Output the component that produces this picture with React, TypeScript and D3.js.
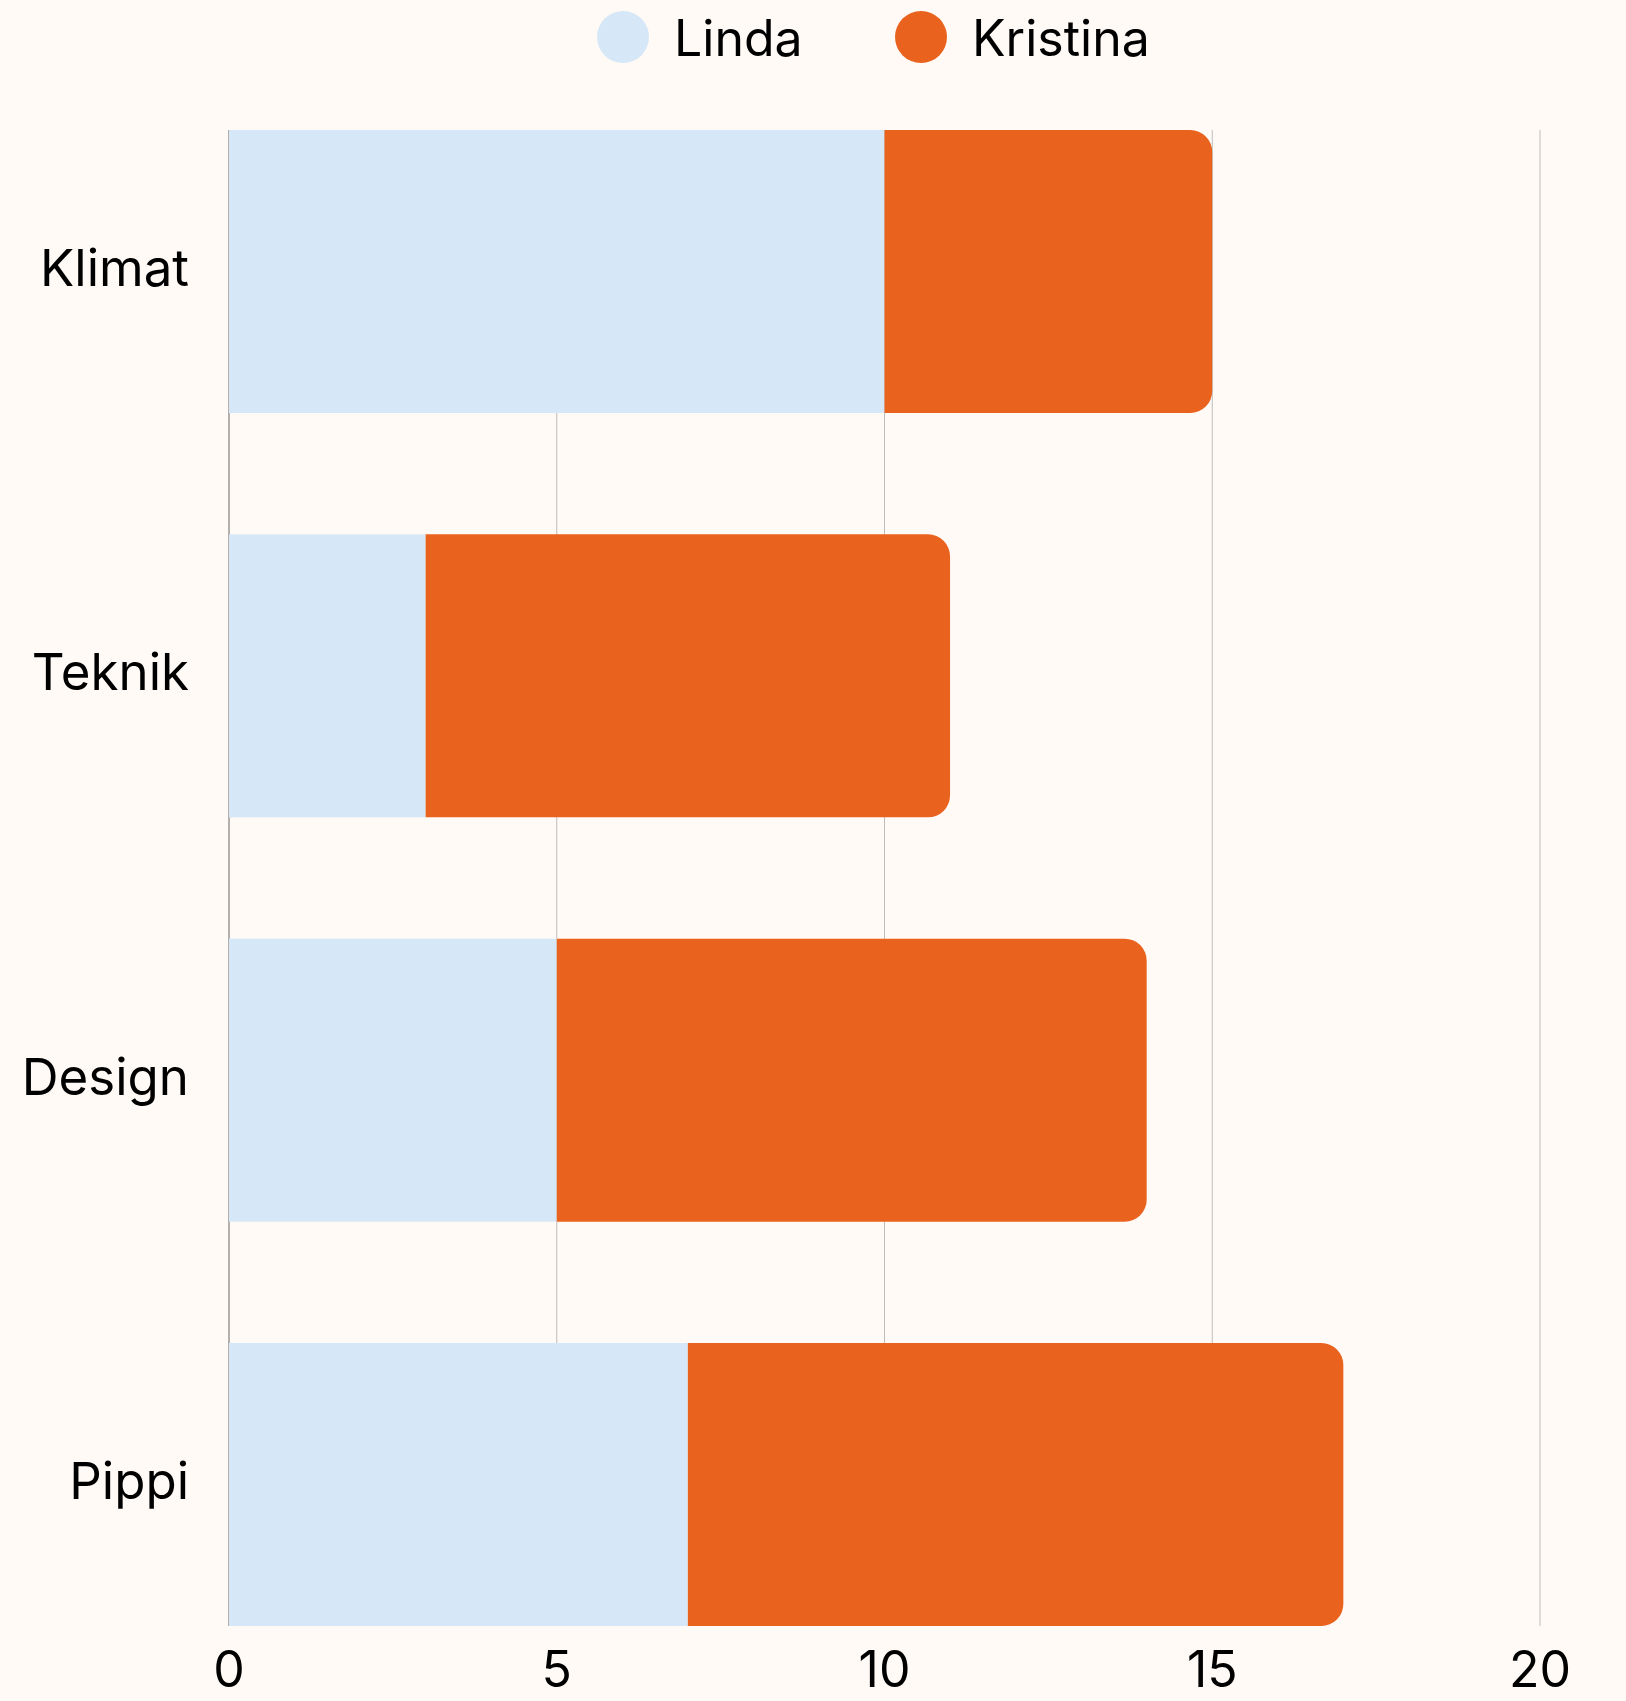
import { useEffect } from 'react';
import * as d3 from 'd3';

const categories = ['Klimat', 'Teknik', 'Design', 'Pippi'];
const lindaValues = [10, 3, 5, 7];
const kristinaValues = [5, 8, 9, 10];
const seriesNames = ['Linda', 'Kristina'];
const xTicks = [0, 5, 10, 15, 20];

const W = 1626;
const H = 1701;
const margin = { top: 130, right: 86, bottom: 75, left: 229 };
const colors = ['#d6e7f7', '#e9631e'];
const bg = '#fffaf6';
const font = 'Inter, "Noto Sans", sans-serif';

// rect with rounded right corners only
function rightRounded(x: number, y: number, w: number, h: number, r: number) {
  const rr = Math.min(r, w, h / 2);
  return `M${x},${y}H${x + w - rr}A${rr},${rr} 0 0 1 ${x + w},${y + rr}V${y + h - rr}A${rr},${rr} 0 0 1 ${x + w - rr},${y + h}H${x}Z`;
}

export default function App() {
  useEffect(() => {
    document.body.style.margin = '0';
    document.body.style.background = bg;
  }, []);

  const x = d3.scaleLinear().domain([0, 20]).range([margin.left, W - margin.right]);
  const y = d3
    .scaleBand()
    .domain(categories)
    .range([margin.top, H - margin.bottom])
    .paddingInner(0.3)
    .paddingOuter(0);

  const rows = categories.map((c, i) => ({ c, linda: lindaValues[i], kristina: kristinaValues[i] }));

  return (
    <svg width={W} height={H} style={{ display: 'block', background: bg }} fontFamily={font}>
      {/* grid */}
      {xTicks.map((t) => (
        <line
          key={t}
          x1={x(t)}
          x2={x(t)}
          y1={margin.top}
          y2={H - margin.bottom}
          stroke={t === 0 ? '#666' : '#bdbdbd'}
          strokeWidth={1}
        />
      ))}

      {/* bars */}
      {rows.map((d) => {
        const y0 = y(d.c) || 0;
        const bh = y.bandwidth();
        return (
          <g key={d.c}>
            <rect x={x(0)} y={y0} width={x(d.linda) - x(0)} height={bh} fill={colors[0]} />
            <path
              d={rightRounded(x(d.linda), y0, x(d.linda + d.kristina) - x(d.linda), bh, 22)}
              fill={colors[1]}
            />
            <text
              x={margin.left - 40}
              y={y0 + bh / 2 - 4}
              textAnchor="end"
              dominantBaseline="central"
              fontSize={51}
              fill="#000"
            >
              {d.c}
            </text>
          </g>
        );
      })}

      {/* x tick labels */}
      {xTicks.map((t) => (
        <text key={t} x={x(t)} y={1687} textAnchor="middle" fontSize={50} fill="#000">
          {t}
        </text>
      ))}

      {/* legend */}
      <g>
        <circle cx={623} cy={37} r={26} fill={colors[0]} />
        <text x={674} y={56} fontSize={50} fill="#000">
          {seriesNames[0]}
        </text>
        <circle cx={921} cy={37} r={26} fill={colors[1]} />
        <text x={972} y={56} fontSize={50} fill="#000">
          {seriesNames[1]}
        </text>
      </g>
    </svg>
  );
}
